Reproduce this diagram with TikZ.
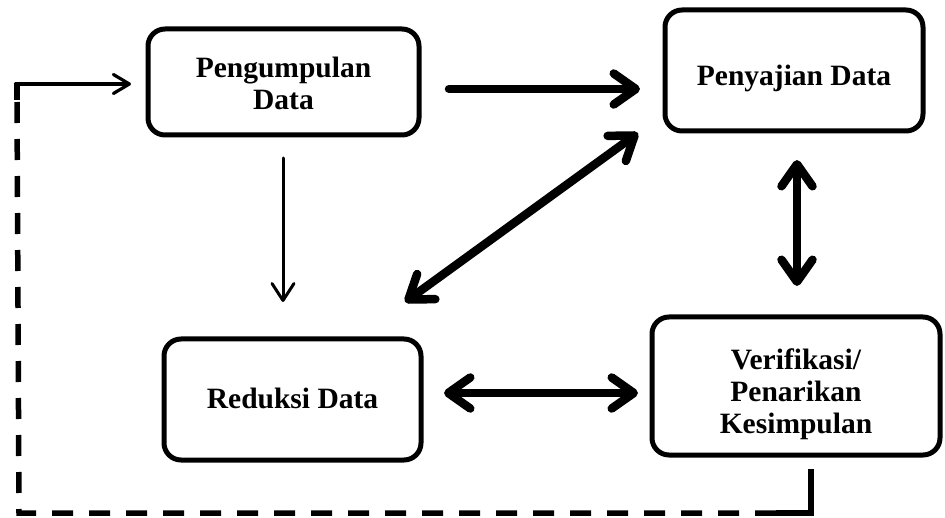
\documentclass[tikz,border=0pt]{standalone}
\usepackage{fontspec}
\setmainfont{Liberation Serif}
\usetikzlibrary{arrows.meta}
\newcommand\boxtext[2]{\raisebox{#1}[\height][\depth]{\begin{tabular}{@{}c@{}}#2\end{tabular}}}
\tikzset{
  box/.style={draw=black, line width=5pt, rounded corners=17pt, fill=white,
    inner sep=0pt, align=center, font=\bfseries\fontsize{29.5}{32}\selectfont},
  thick arrow/.style={line width=8.5pt, line cap=round,
    -{Straight Barb[length=22pt,width=31pt,round]}},
  thick double/.style={line width=8.5pt, line cap=round,
    {Straight Barb[length=22pt,width=31pt,round]}-{Straight Barb[length=22pt,width=31pt,round]}},
  thin arrow/.style={line width=3pt, line cap=round,
    -{Straight Barb[length=17pt,width=22pt,round]}},
  fb solid/.style={line width=5.5pt},
  fb dash/.style={line width=5.5pt, dash pattern=on 21pt off 16pt},
  fb arrow/.style={line width=3.2pt, line cap=round,
    -{Straight Barb[length=16pt,width=19pt,round]}},
}
\begin{document}
\begin{tikzpicture}[x=1pt,y=-1pt]
\useasboundingbox (0,0) rectangle (945,518);
% boxes
\node[box, minimum width=271pt, minimum height=106pt] (b1) at (283.5,82) {\boxtext{-5pt}{Pengumpulan\\Data}};
\node[box, minimum width=258pt, minimum height=121pt] (b2) at (794,70.5) {\boxtext{-9pt}{Penyajian Data}};
\node[box, minimum width=257pt, minimum height=121pt] (b3) at (292.5,399.5) {\boxtext{-3pt}{Reduksi Data}};
\node[box, minimum width=288pt, minimum height=138pt] (b4) at (796,386) {\boxtext{-9pt}{Verifikasi/\\Penarikan\\Kesimpulan}};
% arrow endpoints
\coordinate (a1s) at (449,89);
\coordinate (a1e) at (640,89);
\coordinate (a2s) at (283,158);
\coordinate (a2e) at (283,302);
\coordinate (a3s) at (405,302);
\coordinate (a3e) at (638,133);
\coordinate (a4s) at (797,160);
\coordinate (a4e) at (797,286);
\coordinate (a5s) at (444,393);
\coordinate (a5e) at (638,393);
% feedback path points
\coordinate (f1) at (811,469);
\coordinate (f2) at (811,513);
\coordinate (f2b) at (776,513);
\coordinate (f3) at (19,513);
\coordinate (f4b) at (17,100);
\coordinate (f4) at (17,84);
\coordinate (f5) at (131,84);
% connectors
\draw[thick arrow] (a1s) -- (a1e);
\draw[thin arrow] (a2s) -- (a2e);
\draw[thick double] (a3s) -- (a3e);
\draw[thick double] (a4s) -- (a4e);
\draw[thick double] (a5s) -- (a5e);
\draw[fb solid] (f1) -- (f2) -- (f2b);
\draw[fb dash] (f2b) -- (f3) -- (f4b);
\draw[fb solid] (f4b) -- (f4);
\draw[fb arrow] (f4) ++(-1.5,0) -- (f5);
\end{tikzpicture}
\end{document}
